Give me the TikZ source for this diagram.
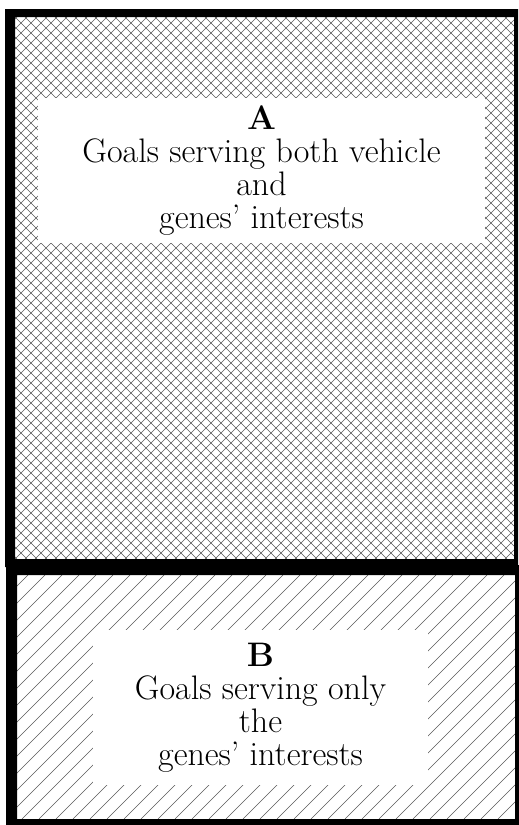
\documentclass[tikz,border=0pt]{standalone}
\usetikzlibrary{positioning}
\tikzset{
  hatch/.style={line width=0.5pt,color=black!65},
  goalbox/.style={fill=white,align=center,inner sep=0pt,font=\fontsize{34}{33}\selectfont},
}
\begin{document}
\begin{tikzpicture}[x=1pt,y=-1pt]
\useasboundingbox (0,0) rectangle (519,825);
% region A: cross hatching
\begin{scope}
\clip (15,17) rectangle (514,559);
\foreach \i in {-545,-535,...,515} {
  \draw[hatch] (\i,17) -- ++(542,542);
  \draw[hatch] (\i,559) -- ++(542,-542);
}
\end{scope}
% region B: single hatching
\begin{scope}
\clip (17,575) rectangle (515,819);
\foreach \i in {-250,-233,...,520} {
  \draw[hatch] (\i,819) -- ++(244,-244);
}
\end{scope}
% frames
\fill[even odd rule] (5,9) rectangle (518,567) (15,17) rectangle (514,559);
\fill[even odd rule] (6,565) rectangle (519,825) (17,575) rectangle (515,819);
% labels
\node[goalbox,minimum width=447pt,minimum height=145pt] (goalsA) at (261.5,170.5)
  {\textbf{A}\\Goals serving both vehicle\\and\\genes' interests};
\node[goalbox,minimum width=335pt,minimum height=155pt] (goalsB) at (260.5,707.5)
  {\textbf{B}\\Goals serving only\\the\\genes' interests};
\end{tikzpicture}
\end{document}
